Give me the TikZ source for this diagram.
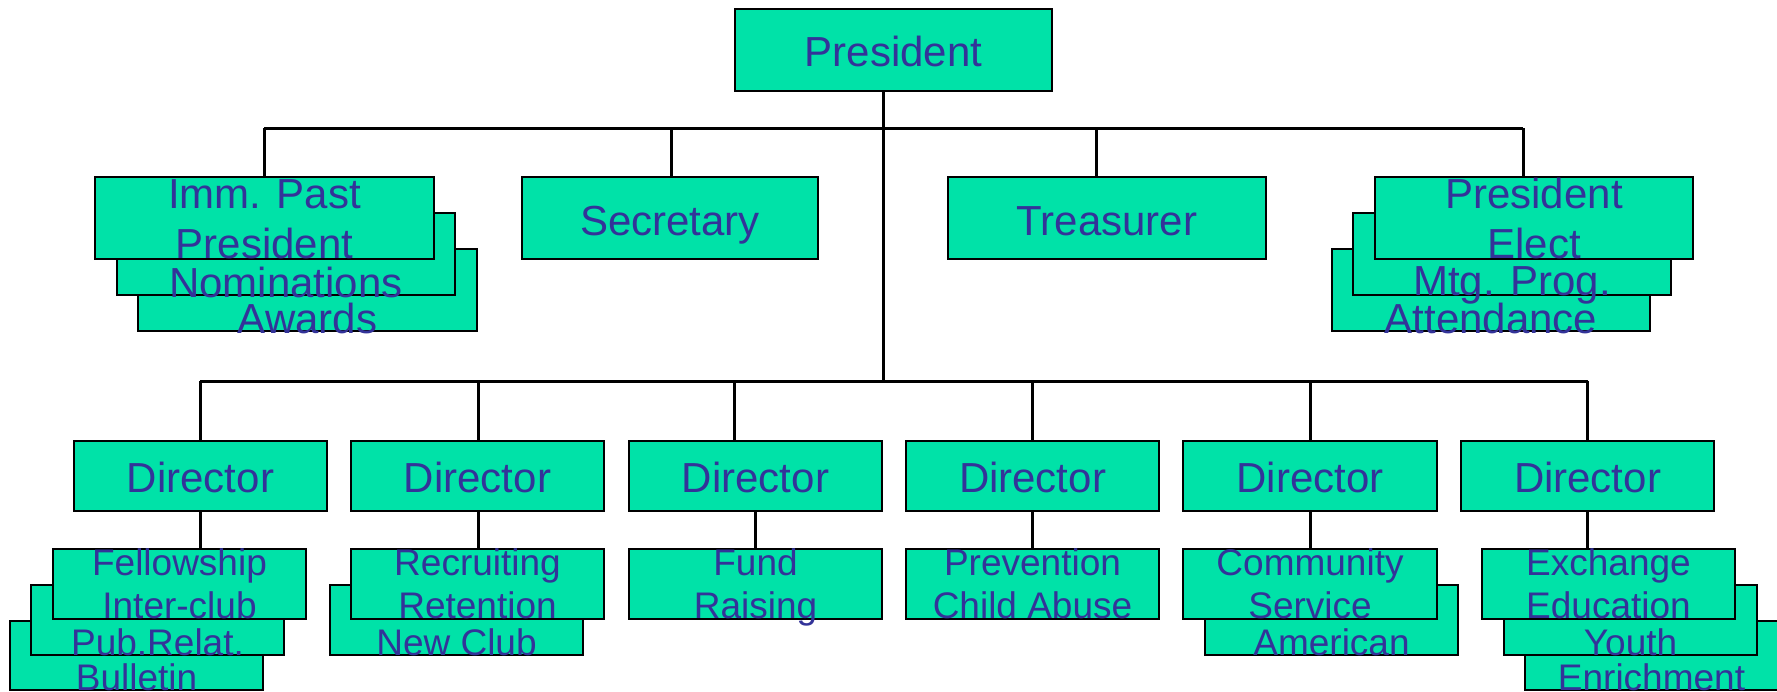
\documentclass[tikz,border=0pt]{standalone}
\usepackage{fontspec}
\setmainfont{Liberation Sans}
\definecolor{boxc}{HTML}{00E2A8}
\definecolor{tc}{HTML}{333399}
\tikzset{
  orgbox/.style={draw=black, line width=2.5pt, fill=boxc, inner sep=0pt, outer sep=0pt, anchor=north west},
  big/.style={anchor=base, text=tc, inner sep=0pt, font=\fontsize{42}{50}\selectfont},
  small/.style={anchor=base, text=tc, inner sep=0pt, font=\fontsize{37}{43}\selectfont},
  conn/.style={draw=black, line width=3pt}
}
\newcommand{\bx}[5]{\node[orgbox, minimum width=#4pt, minimum height=#5pt] (#1) at (#2,#3) {};}
\begin{document}
\begin{tikzpicture}[x=1pt,y=-1pt]
\clip (0,0) rectangle (1777,691);
\fill[white] (0,0) rectangle (1777,691);
% President
\bx{pres}{735}{9}{317}{82}
\node[big] (tpres) at (893.5,66) {President};
% bus coordinates
\coordinate (busA) at (883,128);
\coordinate (busB) at (883,381);
\coordinate (busL) at (264,128);
\coordinate (busR) at (1523,128);
\coordinate (dbL) at (200,381);
\coordinate (dbR) at (1587.5,381);
\coordinate (d3in) at (734,381);
% connectors
\draw[conn] (busA |- pres.south) -- (busB);
\draw[conn] (busL) -- (busR);
\draw[conn] (busL) -- (264,177) coordinate (ippTop);
\draw[conn] (671,128) coordinate (secBus) -- (671,177) coordinate (secTop);
\draw[conn] (1096,128) coordinate (treBus) -- (1096,177) coordinate (treTop);
\draw[conn] (busR) -- (1523,177) coordinate (peTop);
\draw[conn] (dbL) -- (dbR);
\draw[conn] (dbL) -- (200,441) coordinate (d1Top);
\draw[conn] (478,381) coordinate (d2Bus) -- (478,441) coordinate (d2Top);
\draw[conn] (d3in) -- (734,441) coordinate (d3Top);
\draw[conn] (1032.5,381) coordinate (d4Bus) -- (1032.5,441) coordinate (d4Top);
\draw[conn] (1310,381) coordinate (d5Bus) -- (1310,441) coordinate (d5Top);
\draw[conn] (dbR) -- (1587.5,441) coordinate (d6Top);
\draw[conn] (200,511) coordinate (d1Bot) -- (200,549) coordinate (f1Top);
\draw[conn] (478,511) coordinate (d2Bot) -- (478,549) coordinate (r1Top);
\draw[conn] (755.5,511) coordinate (d3Bot) -- (755.5,549) coordinate (fuTop);
\draw[conn] (1032.5,511) coordinate (d4Bot) -- (1032.5,549) coordinate (prTop);
\draw[conn] (1310,511) coordinate (d5Bot) -- (1310,549) coordinate (c1Top);
\draw[conn] (1587.5,511) coordinate (d6Bot) -- (1587.5,549) coordinate (e1Top);
% row 2: Imm. Past President stack
\bx{ipp3}{138}{249}{339}{82}
\node[big] (tipp3) at (307.5,333) {Awards};
\bx{ipp2}{117}{213}{338}{82}
\node[big] (tipp2) at (286,297) {Nominations};
\bx{ipp1}{95}{177}{339}{82}
\node[big] (tipp1a) at (264.5,208) {Imm. Past};
\node[big] (tipp1b) at (264.5,258) {President};
% Secretary, Treasurer
\bx{sec}{522}{177}{296}{82}
\node[big] (tsec) at (670,235) {Secretary};
\bx{tre}{948}{177}{318}{82}
\node[big] (ttre) at (1107,235) {Treasurer};
% President Elect stack
\bx{pe3}{1332}{249}{318}{82}
\node[big] (tpe3) at (1491,333) {Attendance};
\bx{pe2}{1353}{213}{318}{82}
\node[big] (tpe2) at (1512,295) {Mtg. Prog.};
\bx{pe1}{1375}{177}{318}{82}
\node[big] (tpe1a) at (1534,208) {President};
\node[big] (tpe1b) at (1534,258) {Elect};
% Directors
\bx{d1}{74}{441}{253}{70}
\node[big] (td1) at (200.5,492) {Director};
\bx{d2}{351}{441}{253}{70}
\node[big] (td2) at (477.5,492) {Director};
\bx{d3}{629}{441}{253}{70}
\node[big] (td3) at (755.5,492) {Director};
\bx{d4}{906}{441}{253}{70}
\node[big] (td4) at (1032.5,492) {Director};
\bx{d5}{1183}{441}{254}{70}
\node[big] (td5) at (1310,492) {Director};
\bx{d6}{1461}{441}{253}{70}
\node[big] (td6) at (1587.5,492) {Director};
% Fellowship stack
\bx{f3}{10}{621}{253}{69}
\node[small] (tf3) at (136.5,690) {Bulletin};
\bx{f2}{31}{585}{253}{70}
\node[small] (tf2) at (157.5,655) {Pub.Relat.};
\bx{f1}{53}{549}{253}{70}
\node[small] (tf1a) at (179.5,575) {Fellowship};
\node[small] (tf1b) at (179.5,618) {Inter-club};
% Recruiting stack
\bx{r2}{330}{585}{253}{70}
\node[small] (tr2) at (456.5,655) {New Club};
\bx{r1}{351}{549}{253}{70}
\node[small] (tr1a) at (477.5,575) {Recruiting};
\node[small] (tr1b) at (477.5,618) {Retention};
% Fund Raising
\bx{fu}{629}{549}{253}{70}
\node[small] (tfua) at (755.5,575) {Fund};
\node[small] (tfub) at (755.5,618) {Raising};
% Prevention
\bx{pr}{906}{549}{253}{70}
\node[small] (tpra) at (1032.5,575) {Prevention};
\node[small] (tprb) at (1032.5,618) {Child Abuse};
% Community stack
\bx{c2}{1205}{585}{253}{70}
\node[small] (tc2) at (1331.5,655) {American};
\bx{c1}{1183}{549}{254}{70}
\node[small] (tc1a) at (1310,575) {Community};
\node[small] (tc1b) at (1310,618) {Service};
% Exchange stack
\bx{e3}{1525}{621}{253}{69}
\node[small] (te3) at (1651.5,690) {Enrichment};
\bx{e2}{1504}{585}{253}{70}
\node[small] (te2) at (1630.5,655) {Youth};
\bx{e1}{1482}{549}{253}{70}
\node[small] (te1a) at (1608.5,575) {Exchange};
\node[small] (te1b) at (1608.5,618) {Education};
\end{tikzpicture}
\end{document}
